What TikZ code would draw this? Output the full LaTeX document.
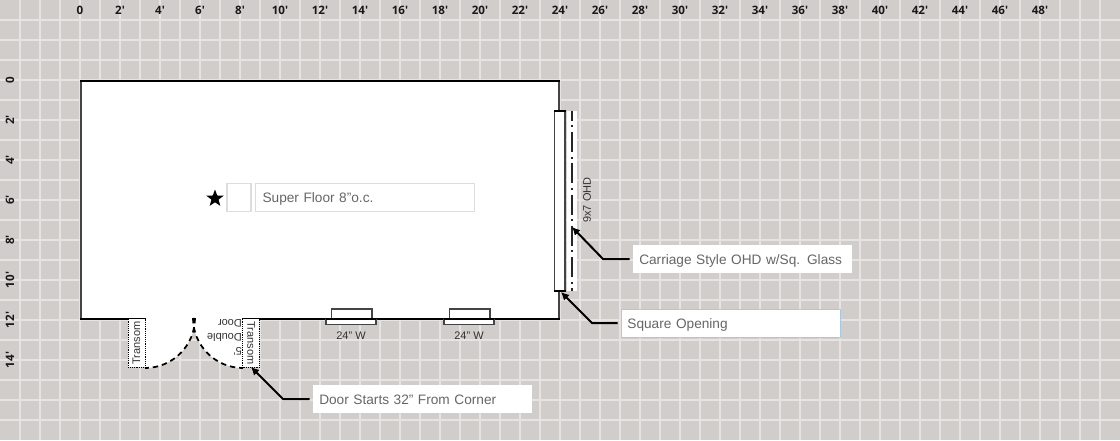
\documentclass[tikz,border=0pt]{standalone}
\usepackage{fontspec}
\setmainfont{Liberation Sans}
\newfontfamily\rulerfont{Open Sans}
\usetikzlibrary{shapes.geometric}
\usetikzlibrary{arrows.meta}
\definecolor{floorbg}{HTML}{D1CDCB}
\definecolor{gridcol}{HTML}{E6E3E2}
\definecolor{notegray}{HTML}{666666}
\definecolor{wallgray}{HTML}{444444}
\definecolor{boxline}{HTML}{DDDDDD}
\definecolor{focusline}{HTML}{A9C9E2}
\tikzset{
  notebox/.style={fill=white,text=notegray,anchor=west,minimum height=21pt,text width=164pt,inner sep=0pt,align=left,text height=10pt,text depth=2.5pt,execute at begin node={\hspace*{4.5pt}},font=\fontsize{10.25}{12}\selectfont},
  rulerlabel/.style={text=black!90,inner sep=0pt,font=\rulerfont\bfseries\fontsize{8.7}{10}\selectfont},
  smalllabel/.style={text=black!80,inner sep=0pt,font=\fontsize{8.25}{10.5}\selectfont},
  transomlabel/.style={smalllabel,draw=black,densely dotted,fill=white,minimum width=36.5pt,minimum height=12.5pt},
  leader/.style={draw=black,line width=1.5pt,-{Latex[length=6pt,width=6pt]},shorten <=2.5pt},
  wallwin/.style={draw=wallgray,fill=white,line width=.9pt},
  doorswing/.style={black,line width=1.3pt,dash pattern=on 4pt off 3pt}
}

\begin{document}
\begin{tikzpicture}[x=.75pt,y=.75pt,yscale=-1]
\useasboundingbox (0,0) rectangle (1120,440);
\fill [floorbg] (0,0) rectangle (1120,440);
% grid, one square per foot
\foreach \gx in {20,40,...,1100}
  \draw [gridcol,line width=1pt] (\gx,0) -- (\gx,440);
\foreach \gy in {20,40,...,420}
  \draw [gridcol,line width=1pt] (0,\gy) -- (1120,\gy);
% rulers
\node [rulerlabel] (topzero) at (80,10) {0};
\foreach \ft in {2,4,...,48}
  \node [rulerlabel] (top\ft) at ({80+20*\ft},10) {\ft'};
\node [rulerlabel,rotate=90] (leftzero) at (10,80) {0};
\foreach \ft in {2,4,...,14}
  \node [rulerlabel,rotate=90] (left\ft) at (10,{80+20*\ft}) {\ft'};
% building walls
\fill [white] (81,81) rectangle (559,319);
\draw [wallgray,line width=1.5pt] (81,80) -- (81,319);
\draw [wallgray,line width=1.5pt] (559,80) -- (559,319);
\draw [black,line width=1.6pt] (80,81) -- (560,81);
\draw [black,line width=1.6pt] (80,319) -- (145,319);
\draw [black,line width=1.6pt] (243,319) -- (560,319);
% double door swing
\fill [white] (145,317) rectangle (243,320);
\fill [white] (145,318) -- (195,318) arc (0:90:50) -- cycle;
\fill [white] (243,318) -- (193,318) arc (180:90:50) -- cycle;
\draw [doorswing] (195,318) arc (0:90:50);
\draw [doorswing] (193,318) arc (180:90:50);
\node [transomlabel,rotate=90] (transomleft) at (136.5,343) {Transom};
\node [transomlabel,rotate=-90] (transomright) at (251,343) {Transom};
\node [smalllabel,rotate=180,align=left] (doorlabel) at (224.5,337.5) {5'\\Double\\Door};
% windows
\draw [wallwin] (331.5,309) rectangle (372,319);
\draw [wallwin] (326,319.5) rectangle (376,324.5);
\draw [wallwin] (449.5,309) rectangle (490,319);
\draw [wallwin] (444,319.5) rectangle (494,324.5);
\draw [black,line width=1.6pt] (326,319) -- (376,319);
\draw [black,line width=1.6pt] (444,319) -- (494,319);
\node [smalllabel] (winone) at (351,336) {24" W};
\node [smalllabel] (wintwo) at (469,336) {24" W};
% square opening
\fill [white] (554.5,111) rectangle (565,291);
\draw [wallgray,line width=1.4pt] (554.5,111) -- (554.5,291);
\draw [wallgray,line width=1.4pt] (565,111) -- (565,291);
\draw [black,line width=1.5pt] (553.5,111) -- (566,111);
\draw [black,line width=1.5pt] (553.5,291) -- (566,291);
% overhead door
\fill [white] (567,111) rectangle (577,291);
\draw [black!85,line width=1.5pt,dash pattern=on 15pt off 3.4pt on 1.5pt off 3.54pt,dash phase=7.7pt] (572,111) -- (572,291);
\node [smalllabel,rotate=90] (ohdlabel) at (587,200) {9x7 OHD};
% floor note
\node [star,star points=5,star point ratio=2.4,fill=black,inner sep=0pt,minimum size=13.5pt] (floorstar) at (215,198.5) {};
\node [draw=boxline,fill=white,line width=.8pt,minimum width=18pt,minimum height=21.5pt,inner sep=0pt] (swatch) at (239,197.5) {};
\node [notebox,draw=boxline,line width=.8pt] (floornote) at (255,197.5) {\hspace*{.75pt}Super Floor 8"o.c.};
% notes with leaders
\node [notebox] (carriage) at (633,259) {Carriage Style OHD w/Sq. Glass};
\node [notebox,draw=focusline,line width=.6pt] (squarenote) at (621,323) {Square Opening};
\node [notebox] (doornote) at (313,399) {Door Starts 32" From Corner};
\coordinate (ohdbend) at (603,259);
\coordinate (ohdtip) at (572,227);
\coordinate (squarebend) at (592,323);
\coordinate (squaretip) at (561,292);
\coordinate (doorbend) at (283,399);
\coordinate (doortip) at (251,367);
\draw [leader] (carriage.west) -- (ohdbend) -- (ohdtip);
\draw [leader] (squarenote.west) -- (squarebend) -- (squaretip);
\draw [leader] (doornote.west) -- (doorbend) -- (doortip);
\end{tikzpicture}
\end{document}
